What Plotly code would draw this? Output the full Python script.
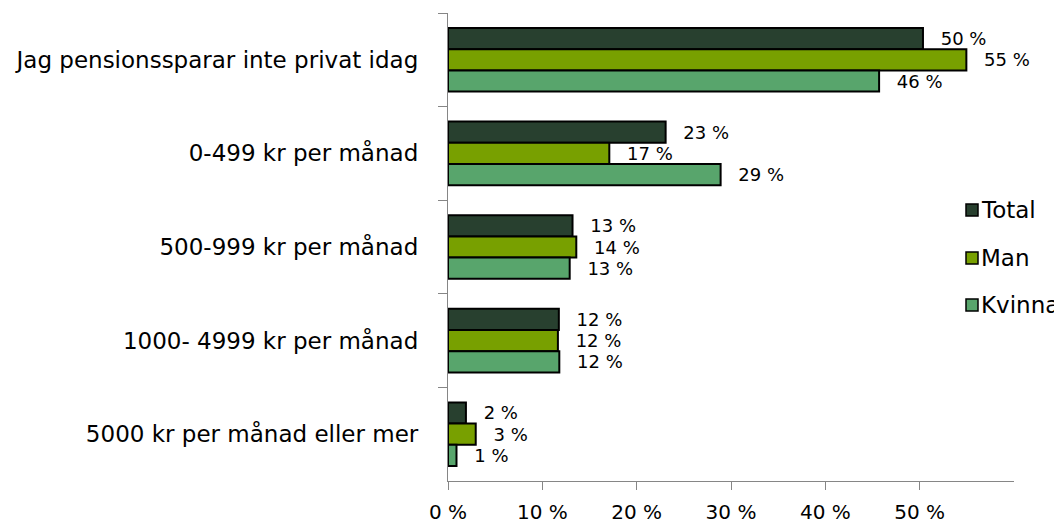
import plotly.graph_objects as go

categories = [
    "Jag pensionssparar inte privat idag",
    "0-499 kr per månad",
    "500-999 kr per månad",
    "1000- 4999 kr per månad",
    "5000 kr per månad eller mer",
]
series_names = ["Total", "Man", "Kvinna"]
total = [50.35, 23.07, 13.2, 11.75, 1.9]
man = [54.95, 17.1, 13.6, 11.65, 2.94]
kvinna = [45.7, 28.9, 12.9, 11.8, 0.9]
tick_values = [0, 10, 20, 30, 40, 50]
tick_labels = ["0 %", "10 %", "20 %", "30 %", "40 %", "50 %"]

colors = ["#28402F", "#78A000", "#58A56C"]
FONT = "DejaVu Sans"

# The page body has an 8px margin; size the figure so it ends at the window edge
PAGE_OFF = 8
W, H = 1062 - PAGE_OFF, 524 - PAGE_OFF
# plot area in page pixels: x 448..1014, y 13..481
ML = 448 - PAGE_OFF
MT = 13 - PAGE_OFF
MR = W - (1014 - PAGE_OFF)
MB = H - (481 - PAGE_OFF)
PW, PH = W - ML - MR, H - MT - MB


def px_x(page_px):
    return (page_px - PAGE_OFF - ML) / PW


def px_y(page_py):
    return 1 - (page_py - PAGE_OFF - MT) / PH


fig = go.Figure()
for name, vals, col in zip(series_names, [total, man, kvinna], colors):
    fig.add_trace(go.Bar(
        y=categories, x=vals, name=name, orientation="h",
        marker=dict(color=col, line=dict(color="black", width=2)),
        text=["\u2002 " + f"{round(v):.0f} %" for v in vals],
        textposition="outside", constraintext="none", cliponaxis=False,
        textfont=dict(family=FONT, size=18, color="black"),
        showlegend=False,
    ))

# Manual legend (square swatches + labels), positioned like the reference
legend_centers = [210, 258, 305]
for name, col, cy in zip(series_names, colors, legend_centers):
    fig.add_shape(type="rect", xref="paper", yref="paper",
                  x0=px_x(966), x1=px_x(978), y0=px_y(cy + 6), y1=px_y(cy - 6),
                  fillcolor=col, line=dict(color="black", width=1.5))
    fig.add_annotation(xref="paper", yref="paper", x=px_x(979), y=px_y(cy),
                       xanchor="left", yanchor="middle", showarrow=False,
                       text=name, font=dict(family=FONT, size=23, color="black"))

fig.update_layout(
    width=W, height=H,
    margin=dict(l=ML, r=MR, t=MT, b=MB, autoexpand=False),
    paper_bgcolor="white", plot_bgcolor="white",
    barmode="group", bargap=0.32, bargroupgap=0,
    font=dict(family=FONT, size=20, color="black"),
    showlegend=False,
)
fig.update_xaxes(range=[0, 60], tickvals=tick_values, ticktext=tick_labels,
                 showgrid=False, zeroline=False, showline=True,
                 linecolor="#868686", linewidth=1.3, ticks="outside",
                 ticklen=8, tickcolor="#868686", tickwidth=1.3,
                 tickfont=dict(family=FONT, size=20), ticklabelstandoff=5,
                 automargin=False)
fig.update_yaxes(autorange="reversed", showgrid=False, showline=True,
                 linecolor="#868686", linewidth=1.3, ticks="outside",
                 tickson="boundaries", ticklen=9, tickcolor="#868686",
                 tickwidth=1.3, tickfont=dict(family=FONT, size=23),
                 ticklabelstandoff=24, automargin=False)

fig.write_html("out.html")
